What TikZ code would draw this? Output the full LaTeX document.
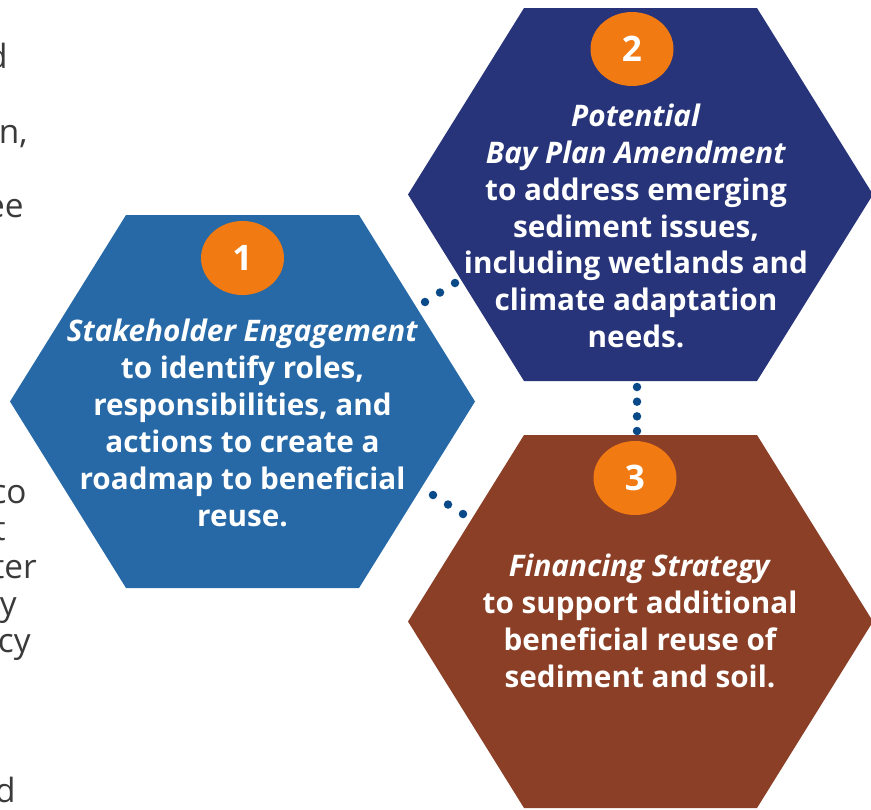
\documentclass[tikz,border=0pt]{standalone}
\usepackage{fontspec}
\setmainfont{Open Sans}
\usetikzlibrary{shapes.geometric,calc}
\definecolor{hexblue}{RGB}{38, 105, 166}
\definecolor{hexnavy}{RGB}{39, 52, 122}
\definecolor{hexbrown}{RGB}{138, 63, 38}
\definecolor{badgeorange}{RGB}{241, 122, 18}
\definecolor{dotblue}{RGB}{11, 74, 137}
\definecolor{textgray}{RGB}{58, 58, 58}
\tikzset{
  badge/.style={ellipse, fill=badgeorange, minimum width=1.66cm, minimum height=1.48cm,
    inner sep=0pt, text=white, font=\fontsize{20}{24}\selectfont\bfseries},
  hextext/.style={align=center, text=white, font=\fontsize{16.9}{21}\selectfont\bfseries},
  sidetext/.style={anchor=base east, text=textgray, inner sep=0pt, font=\fontsize{19}{21}\selectfont},
}
\newcommand{\hexpath}[3]{% center x, center y, colour
  \fill[#3] ({#1-\hwid},#2) -- ({#1-\hedge},{#2-\hhgt}) -- ({#1+\hedge},{#2-\hhgt})
    -- ({#1+\hwid},#2) -- ({#1+\hedge},{#2+\hhgt}) -- ({#1-\hedge},{#2+\hhgt}) -- cycle;}

\begin{document}
\begin{tikzpicture}[x=0.02cm, y=-0.02cm]
        \def\hwid{232.5}
        \def\hedge{116.5}
        \def\hhgt{186.5}
        \useasboundingbox (0,0) rectangle (871,809);

        % Side text (cut off at the left edge)
        \node[sidetext] (s1) at (8,68) {d};
        \node[sidetext] (s2) at (28,143) {on,};
        \node[sidetext] (s3) at (24,217) {ee};
        \node[sidetext] (s4) at (27,503) {co};
        \node[sidetext] (s5) at (6,540) {t};
        \node[sidetext] (s6) at (37,578) {ter};
        \node[sidetext] (s7) at (17,615) {y};
        \node[sidetext] (s8) at (31,652) {cy};
        \node[sidetext] (s9) at (16,802) {d};

        % Hexagons
        \hexpath{242.5}{401.5}{hexblue}
        \hexpath{640.5}{194.5}{hexnavy}
        \hexpath{640.5}{621.5}{hexbrown}

        % Badges
        \node[badge] (n1) at (242.5,258) {1};
        \node[badge] (n2) at (632,49) {2};
        \node[badge] (n3) at (635,478) {3};

        % Texts
        \node[hextext] (t1) at (242.5,423) {\textit{Stakeholder Engagement}\\to identify roles,\\responsibilities, and\\actions to create a\\roadmap to beneficial\\reuse.};
        \node[hextext] (t2) at (636,226) {\textit{Potential}\\\textit{Bay Plan Amendment}\\to address emerging\\sediment issues,\\including wetlands and\\climate adaptation\\needs.};
        \node[hextext] (t3) at (640,621) {\textit{Financing Strategy}\\to support additional\\beneficial reuse of\\sediment and soil.};

        % Dotted links
        \coordinate (a12) at (425,302);
        \coordinate (b12) at (455,283);
        \coordinate (a13) at (433,495);
        \coordinate (b13) at (463,514);
        \coordinate (a23) at (637,387);
        \coordinate (b23) at (637,431);
        \foreach \t in {0,0.5,1} {
            \fill[dotblue] ($(a12)!\t!(b12)$) circle[radius=0.085cm];
            \fill[dotblue] ($(a13)!\t!(b13)$) circle[radius=0.085cm];
        }
        \foreach \t in {0,0.3333,0.6667,1}
            \fill[dotblue] ($(a23)!\t!(b23)$) circle[radius=0.085cm];
    \end{tikzpicture}
\end{document}
